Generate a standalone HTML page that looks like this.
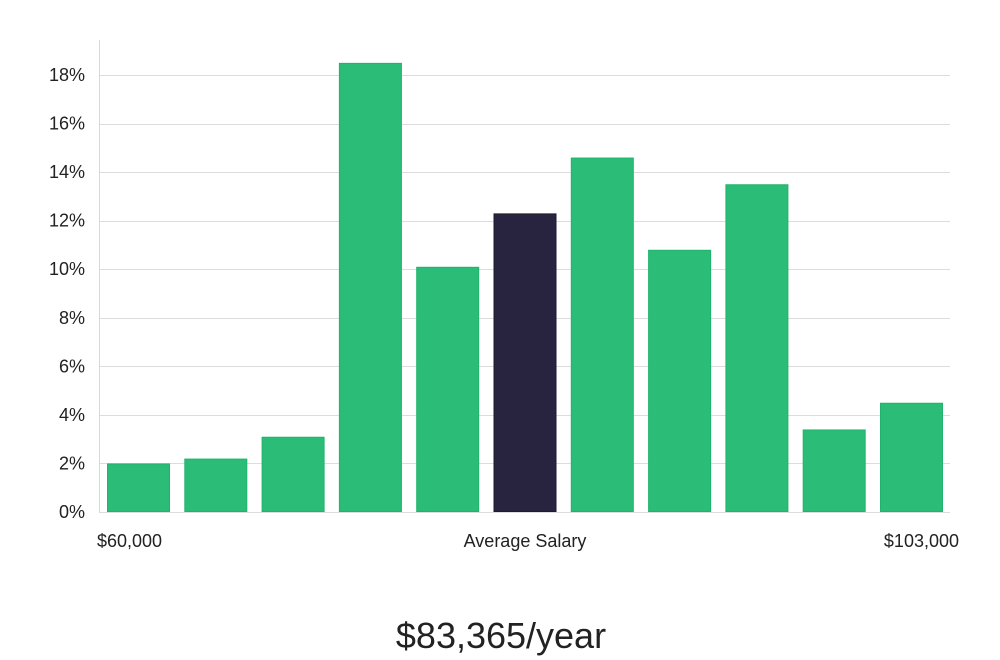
<!DOCTYPE html>
<html><head><meta charset="utf-8"><style>
html,body{margin:0;padding:0;background:#fff;}
svg{display:block;font-family:"Liberation Sans","DejaVu Sans",sans-serif;}
</style></head><body>
<svg id="chart" width="1000" height="660" viewBox="0 0 1000 660" xmlns="http://www.w3.org/2000/svg">
<g id="grid"></g>
<g id="yticks"></g>
<line x1="99.5" y1="40" x2="99.5" y2="512" stroke="#d8d8d8" stroke-width="1"/>
<g id="bars"></g>
<text x="97" y="547" font-size="18" fill="#222">$60,000</text>
<text x="525" y="547" font-size="18" fill="#222" text-anchor="middle">Average Salary</text>
<text x="959" y="547" font-size="18" fill="#222" text-anchor="end">$103,000</text>
<text x="501" y="648" font-size="36" fill="#222" text-anchor="middle" font-weight="300">$83,365/year</text>
</svg>
<script>
const values = [2.0, 2.2, 3.1, 18.5, 10.1, 12.3, 14.6, 10.8, 13.5, 3.4, 4.5];
const highlightIndex = [5];
const yTicks = [0, 2, 4, 6, 8, 10, 12, 14, 16, 18];
const yTickLabels = ["0%","2%","4%","6%","8%","10%","12%","14%","16%","18%"];

const NS = "http://www.w3.org/2000/svg";
const y0 = 512, yTop = 75, maxV = 18;
function yScale(v){ return y0 - (y0 - yTop) * v / maxV; }
const xStart = 107, step = 77.3, barW = 63;
function xScale(i){ return xStart + i * step; }

const grid = document.getElementById('grid');
const yt = document.getElementById('yticks');
yTicks.forEach((t, i) => {
  const y = Math.round(yScale(t)) + 0.5;
  const l = document.createElementNS(NS, 'line');
  
  
  l.setAttribute('x1', 99); l.setAttribute('x2', 950);
  l.setAttribute('y1', y); l.setAttribute('y2', y);
  l.setAttribute('stroke', '#dcdcdc'); l.setAttribute('stroke-width', 1);
  grid.appendChild(l);
  const tx = document.createElementNS(NS, 'text');
  
  
  tx.setAttribute('x', 85); tx.setAttribute('y', yScale(t) + 6);
  tx.setAttribute('text-anchor', 'end'); tx.setAttribute('font-size', 18);
  tx.setAttribute('fill', '#222');
  tx.textContent = yTickLabels[i];
  yt.appendChild(tx);
});

const bars = document.getElementById('bars');
values.forEach((v, i) => {
  const r = document.createElementNS(NS, 'rect');
  
  
  const top = yScale(v);
  const hl = highlightIndex.includes(i);
  r.setAttribute('x', xScale(i) + 0.5);
  r.setAttribute('y', top + 0.5);
  r.setAttribute('width', barW - 1);
  r.setAttribute('height', y0 - top - 1);
  r.setAttribute('fill', hl ? '#28243f' : '#2bbd77');
  r.setAttribute('stroke', hl ? '#1c1a33' : '#20b36c');
  r.setAttribute('stroke-width', 1);
  bars.appendChild(r);
});
</script>
</body></html>
